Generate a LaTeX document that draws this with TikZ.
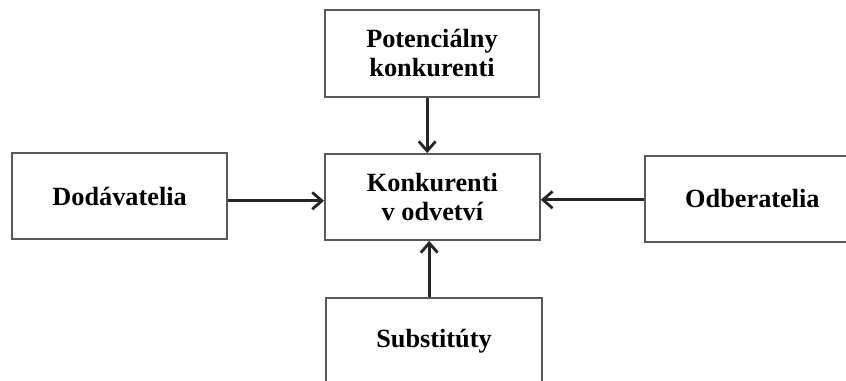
\documentclass[tikz,border=0pt]{standalone}
\usepackage{fontspec}
\setmainfont{Liberation Serif}
\usetikzlibrary{arrows.meta}
\begin{document}
\begin{tikzpicture}[
    box/.style={draw=black!65, line width=1.3pt, fill=white, minimum width=5.375cm, minimum height=2.15cm, align=center, font=\fontsize{18.7}{20.5}\selectfont\bfseries},
    arr/.style={-{Straight Barb[length=0.24cm,width=0.42cm]}, line width=2pt, black!85}
]
\clip (0,0) rectangle (21.15,9.525);
\fill[white] (0,0) rectangle (21.15,9.525);
% --- forces ---
\node[box, minimum width=5.35cm, minimum height=2.175cm] (pot) at (10.8, 8.19) {Potenciálny\\konkurenti};
\node[box] (kon) at (10.81, 4.6) {Konkurenti\\v odvetví};
\node[box] (dod) at (2.99, 4.625) {Dodávatelia};
\node[box] (odb) at (18.81, 4.56) {Odberatelia};
\node[box, minimum width=5.4cm, minimum height=2.175cm] (sub) at (10.85, 0.99) {Substitúty};
\draw[arr] ([xshift=-0.12cm]pot.south) -- ([xshift=-0.12cm]pot.south |- kon.north);
\draw[arr] ([yshift=-0.12cm]dod.east) -- ([yshift=-0.12cm]dod.east -| kon.west);
\draw[arr] ([yshift=-0.03cm]odb.west) -- ([yshift=-0.03cm]odb.west -| kon.east);
\draw[arr] ([xshift=-0.12cm]sub.north) -- ([xshift=-0.12cm]sub.north |- kon.south);
\end{tikzpicture}
\end{document}
